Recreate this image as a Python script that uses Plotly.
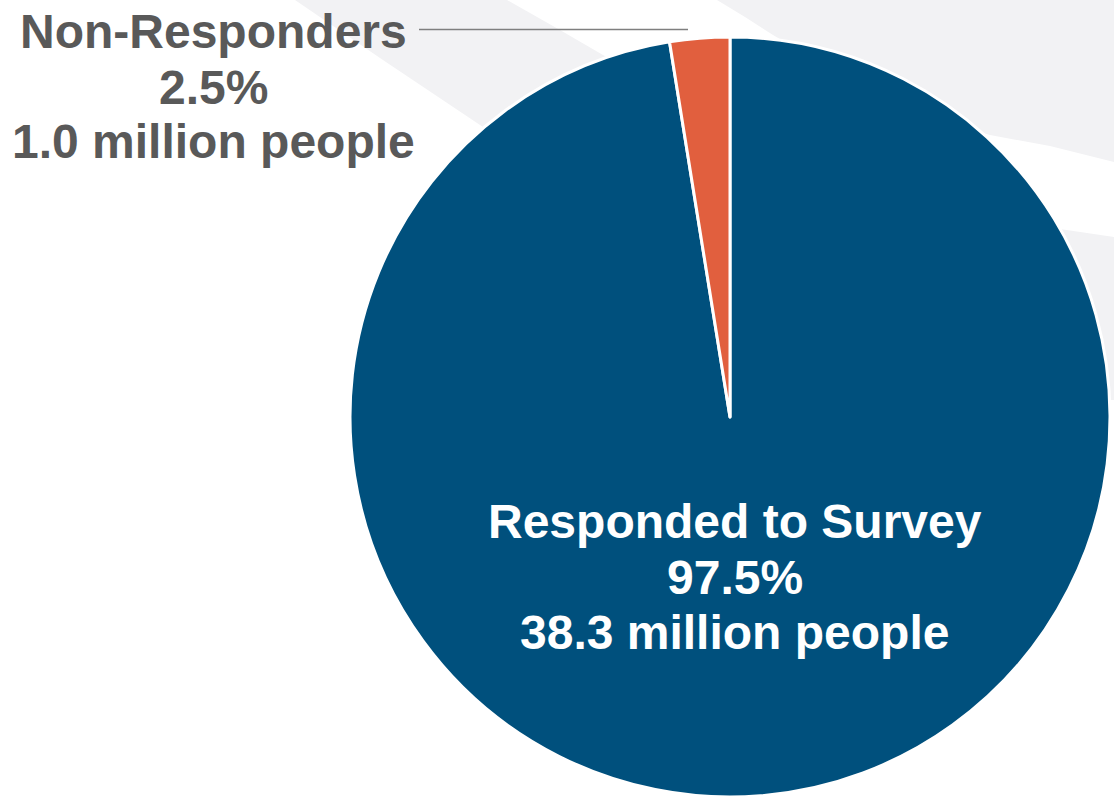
import plotly.graph_objects as go

# ---- data ----
labels = ["Responded to Survey", "Non-Responders"]
people_millions = [38.3, 1.0]
percent_labels = ["97.5%", "2.5%"]
slice_colors = ["#00507D", "#E15F3E"]

W, H = 1114, 799


def px(x):
    return x / W


def py(y):
    return 1 - y / H


# pie geometry (pixels)
cx, cy, r = 730, 417, 380

fig = go.Figure()
fig.add_trace(go.Pie(
    labels=labels,
    values=people_millions,
    sort=False,
    direction="clockwise",
    rotation=0,
    textinfo="none",
    hoverinfo="label+percent",
    marker=dict(colors=slice_colors, line=dict(color="white", width=3)),
    domain=dict(x=[px(cx - r), px(cx + r)], y=[py(cy + r), py(cy - r)]),
    showlegend=False,
))


def path(points, close=True):
    s = "M " + " L ".join(f"{px(x):.5f},{py(y):.5f}" for x, y in points)
    return s + (" Z" if close else "")


grey = "#F2F2F4"
shapes = [
    # diagonal band upper-left
    dict(type="path", xref="paper", yref="paper", layer="below",
         path=path([(295, 0), (507, 0), (560, 30), (603, 55), (800, 165), (1032, 300),
                    (739, 300), (480, 125), (380, 58)]),
         fillcolor=grey, line=dict(width=0)),
    # top-right swoosh
    dict(type="path", xref="paper", yref="paper", layer="below",
         path=path([(717, 0), (745, 17), (773, 35), (850, 80), (930, 118), (990, 135),
                    (1050, 146), (1114, 162), (1114, 0)]),
         fillcolor=grey, line=dict(width=0)),
    # right lower swoosh
    dict(type="path", xref="paper", yref="paper", layer="below",
         path=path([(1000, 222), (1060, 229), (1114, 237), (1114, 400), (1090, 400),
                    (1000, 300)]),
         fillcolor=grey, line=dict(width=0)),
    # leader line for Non-Responders
    dict(type="line", xref="paper", yref="paper", layer="above",
         x0=px(419), x1=px(688), y0=py(29.5), y1=py(29.5),
         line=dict(color="#7F7F7F", width=1.5)),
]

font_family = "Liberation Sans, Arial, sans-serif"
annotations = []

# Non-Responders label (outside, upper left)
nr_lines = [labels[1], percent_labels[1], f"{people_millions[1]:.1f} million people"]
for txt, yy in zip(nr_lines, [31, 88, 141]):
    annotations.append(dict(
        x=px(213), y=py(yy), xref="paper", yref="paper", text=f"<b>{txt}</b>",
        showarrow=False, xanchor="center", yanchor="middle",
        font=dict(family=font_family, size=48, color="#595959")))

# Responded label (inside)
r_lines = [labels[0], percent_labels[0], f"{people_millions[0]:.1f} million people"]
for txt, yy in zip(r_lines, [521, 577, 632]):
    annotations.append(dict(
        x=px(735), y=py(yy), xref="paper", yref="paper", text=f"<b>{txt}</b>",
        showarrow=False, xanchor="center", yanchor="middle",
        font=dict(family=font_family, size=48, color="white")))

fig.update_layout(
    width=W, height=H,
    margin=dict(l=0, r=0, t=0, b=0),
    paper_bgcolor="white",
    plot_bgcolor="white",
    shapes=shapes,
    annotations=annotations,
)

fig.write_html("out.html",
               config={"displayModeBar": False},
               post_script="document.body.style.margin='0';document.body.style.overflow='hidden';")
